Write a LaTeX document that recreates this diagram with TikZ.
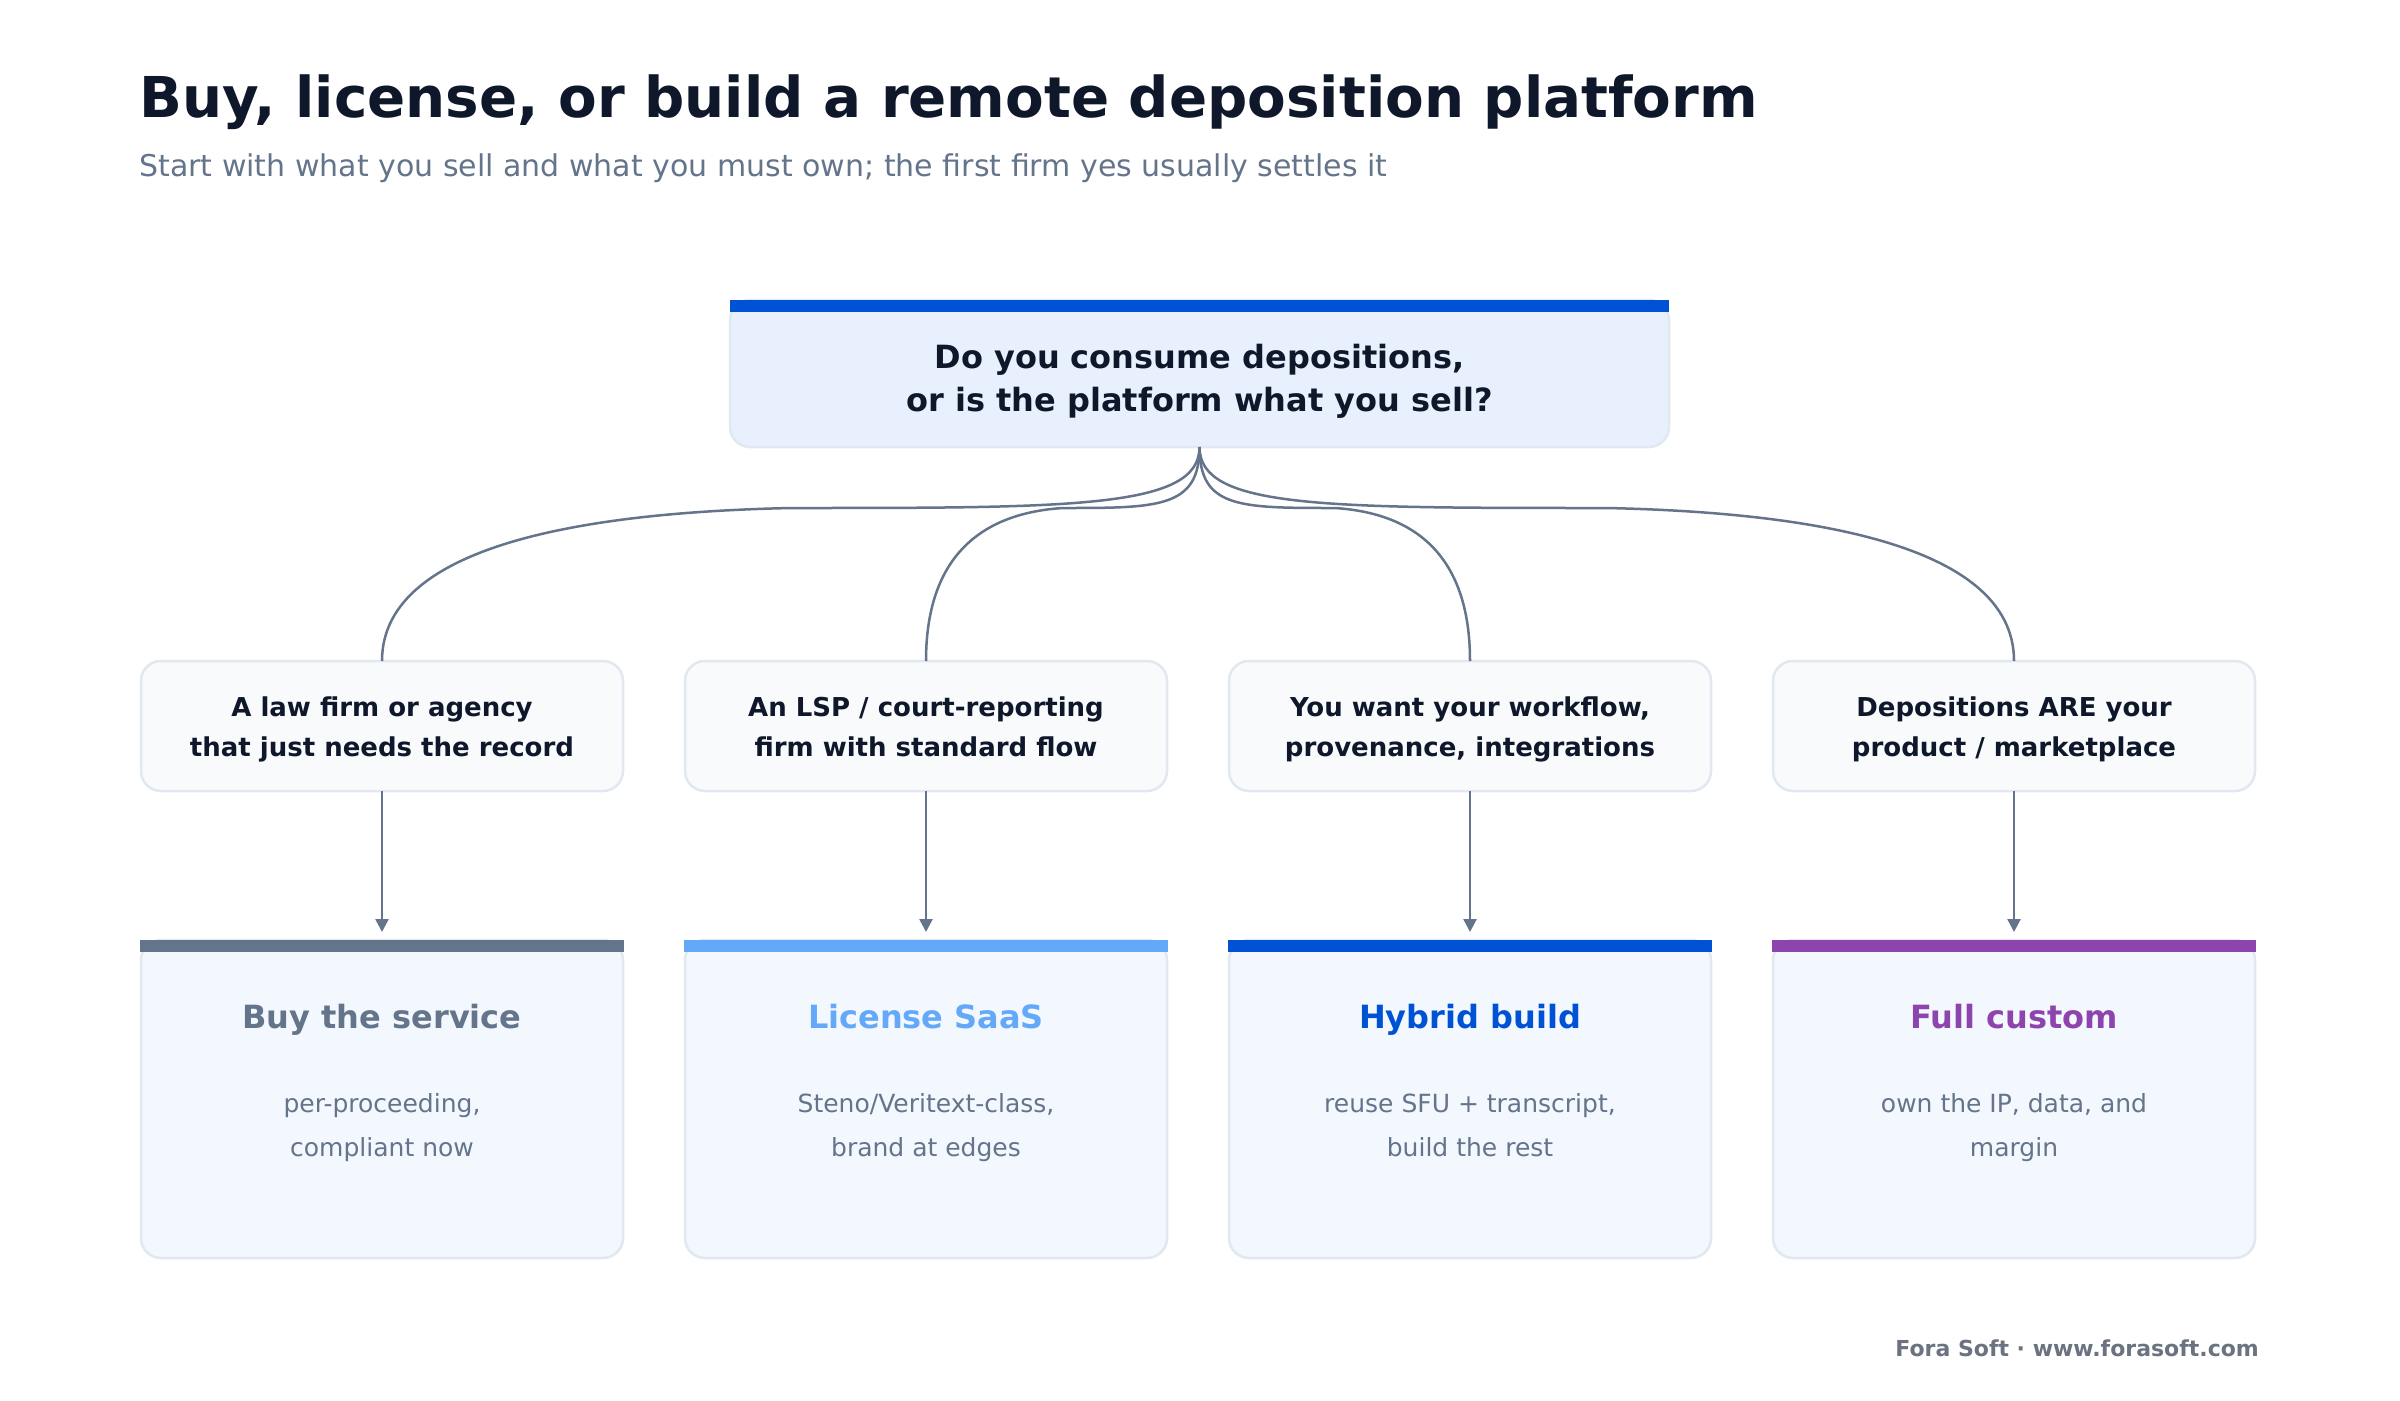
\documentclass[tikz,border=0pt]{standalone}
\usepackage{fontspec}
\setmainfont{DejaVu Sans}
\usetikzlibrary{arrows.meta,calc}
\definecolor{ink}{HTML}{0F172A}
\definecolor{slate}{HTML}{64748B}
\definecolor{bordc}{HTML}{E2E8F0}
\definecolor{topfill}{HTML}{E8F0FE}
\definecolor{midfill}{HTML}{F8FAFC}
\definecolor{botfill}{HTML}{F3F7FE}
\definecolor{cBuy}{HTML}{64748B}
\definecolor{cLic}{HTML}{64A9F9}
\definecolor{cHyb}{HTML}{0052D4}
\definecolor{cFull}{HTML}{8E44AD}
\definecolor{footc}{HTML}{6B7280}
\newcommand{\fs}[1]{\fontsize{#1}{#1}\selectfont}
\begin{document}
\begin{tikzpicture}[x=1pt,y=-1pt,
  boxbase/.style={draw=bordc, line width=2.5pt, rounded corners=20pt, inner sep=0pt, outer sep=0pt},
  topbox/.style={boxbase, fill=topfill, minimum width=939pt, minimum height=147pt},
  midbox/.style={boxbase, fill=midfill, minimum width=482pt, minimum height=130pt},
  botbox/.style={boxbase, fill=botfill, minimum width=482pt, minimum height=318pt},
  bar/.style={fill=#1, draw=none, inner sep=0pt, outer sep=0pt, minimum height=12pt},
  txt/.style={anchor=base, inner sep=0pt, text=ink},
  conn/.style={draw=slate, line width=2.5pt},
  arr/.style={conn, -{Triangle[length=13pt,width=13pt]}, shorten >=8pt},
]
\useasboundingbox (0,0) rectangle (2400,1400);
\fill[white] (0,0) rectangle (2400,1400);

% title
\node[anchor=base west, inner sep=0pt, text=ink] (title) at (139,117) {\fs{56.3}\bfseries Buy, license, or build a remote deposition platform};
\node[anchor=base west, inner sep=0pt, text=slate] (subtitle) at (139,176) {\fs{30}Start with what you sell and what you must own; the first firm yes usually settles it};

% top question
\node[topbox] (top) at (1199.5,373.5) {};
\node[bar=cHyb, minimum width=939pt] (topbar) at (1199.5,306) {};
\node[txt] (tq1) at (1199.5,368) {\fs{32}\bfseries Do you consume depositions,};
\node[txt] (tq2) at (1199.5,411) {\fs{32}\bfseries or is the platform what you sell?};

% middle boxes
\node[midbox] (m1) at (382,726) {};
\node[midbox] (m2) at (926,726) {};
\node[midbox] (m3) at (1470,726) {};
\node[midbox] (m4) at (2014,726) {};
\node[txt] (m1a) at (382,716) {\fs{26}\bfseries A law firm or agency};
\node[txt] (m1b) at (382,756) {\fs{26}\bfseries that just needs the record};
\node[txt] (m2a) at (926,716) {\fs{26}\bfseries An LSP / court-reporting};
\node[txt] (m2b) at (926,756) {\fs{26}\bfseries firm with standard flow};
\node[txt] (m3a) at (1470,716) {\fs{26}\bfseries You want your workflow,};
\node[txt] (m3b) at (1470,756) {\fs{26}\bfseries provenance, integrations};
\node[txt] (m4a) at (2014,716) {\fs{26}\bfseries Depositions ARE your};
\node[txt] (m4b) at (2014,756) {\fs{26}\bfseries product / marketplace};

% bottom boxes
\node[botbox] (b1) at (382,1099) {};
\node[botbox] (b2) at (926,1099) {};
\node[botbox] (b3) at (1470,1099) {};
\node[botbox] (b4) at (2014,1099) {};
\node[bar=cBuy, minimum width=484pt] (b1bar) at (382,946) {};
\node[bar=cLic, minimum width=484pt] (b2bar) at (926,946) {};
\node[bar=cHyb, minimum width=484pt] (b3bar) at (1470,946) {};
\node[bar=cFull, minimum width=484pt] (b4bar) at (2014,946) {};

\node[txt, text=cBuy] (b1t) at (382,1028) {\fs{32}\bfseries Buy the service};
\node[txt, text=cLic] (b2t) at (926,1028) {\fs{32}\bfseries License SaaS};
\node[txt, text=cHyb] (b3t) at (1470,1028) {\fs{32}\bfseries Hybrid build};
\node[txt, text=cFull] (b4t) at (2014,1028) {\fs{32}\bfseries Full custom};

\node[txt, text=slate] (b1d1) at (382,1112) {\fs{25}per-proceeding,};
\node[txt, text=slate] (b1d2) at (382,1156) {\fs{25}compliant now};
\node[txt, text=slate] (b2d1) at (926,1112) {\fs{25}Steno/Veritext-class,};
\node[txt, text=slate] (b2d2) at (926,1156) {\fs{25}brand at edges};
\node[txt, text=slate] (b3d1) at (1470,1112) {\fs{25}reuse SFU + transcript,};
\node[txt, text=slate] (b3d2) at (1470,1156) {\fs{25}build the rest};
\node[txt, text=slate] (b4d1) at (2014,1112) {\fs{25}own the IP, data, and};
\node[txt, text=slate] (b4d2) at (2014,1156) {\fs{25}margin};

% junction coordinates of the branching curves
\coordinate (j1) at (790.75,508);
\coordinate (j2) at (1062.75,508);
\coordinate (j3) at (1334.75,508);
\coordinate (j4) at (1606.75,508);

\draw[conn] (top.south) .. controls +(0,61) and +(286,0) .. (j1)
            .. controls +(-184,4) and +(0,-122) .. (m1.north);
\draw[conn] (top.south) .. controls +(0,61) and +(95.7,0) .. (j2)
            .. controls +(-61.5,4) and +(0,-122) .. (m2.north);
\draw[conn] (top.south) .. controls +(0,61) and +(-95.7,0) .. (j3)
            .. controls +(61.5,4) and +(0,-122) .. (m3.north);
\draw[conn] (top.south) .. controls +(0,61) and +(-286,0) .. (j4)
            .. controls +(184,4) and +(0,-122) .. (m4.north);

\draw[arr] (m1.south) -- (b1bar.north);
\draw[arr] (m2.south) -- (b2bar.north);
\draw[arr] (m3.south) -- (b3bar.north);
\draw[arr] (m4.south) -- (b4bar.north);

% footer
\node[anchor=base east, inner sep=0pt, text=footc] (footer) at (2259,1356) {\fs{22}\bfseries Fora Soft · www.forasoft.com};
\end{tikzpicture}
\end{document}
